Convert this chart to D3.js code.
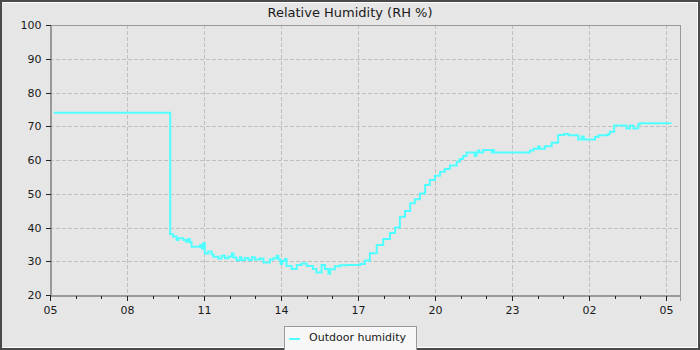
<!DOCTYPE html>
<html>
<head>
<meta charset="utf-8">
<script src="https://cdn.jsdelivr.net/npm/d3@7"></script>
<style>
  html, body { margin: 0; padding: 0; background: #e6e6e6; }
  svg { display: block; }
  text { font-family: "DejaVu Sans", sans-serif; fill: #1a1a1a; }
</style>
</head>
<body>
<svg id="chart" width="700" height="350"></svg>
<script>
// Outdoor relative humidity readings (clock time, % RH); the clock wraps past midnight into the next day
const times = [
  "05:09", "09:41", "09:48", "09:56", "10:00", "10:12", "10:18", "10:23", "10:27", "10:31",
  "10:51", "10:55", "10:58", "11:02", "11:10", "11:18", "11:22", "11:33", "11:41", "11:49",
  "11:57", "12:05", "12:09", "12:16", "12:24", "12:28", "12:36", "12:44", "12:52", "12:59",
  "13:11", "13:19", "13:34", "13:42", "13:50", "13:54", "13:59", "14:03", "14:09", "14:13",
  "14:25", "14:37", "14:48", "15:00", "15:15", "15:23", "15:35", "15:43", "15:51", "15:55",
  "16:06", "16:18", "16:34", "17:05", "17:16", "17:28", "17:44", "17:59", "18:15", "18:27",
  "18:38", "18:50", "19:02", "19:13", "19:25", "19:37", "19:48", "20:00", "20:12", "20:23",
  "20:35", "20:51", "20:58", "21:06", "21:14", "21:33", "21:37", "21:41", "21:44", "21:53",
  "22:13", "22:15", "22:18", "23:42", "23:50", "00:01", "00:05", "00:17", "00:33", "00:48",
  "01:02", "01:12", "01:35", "01:43", "01:48", "02:14", "02:22", "02:45", "02:49", "02:59",
  "03:28", "03:36", "03:44", "03:55", "03:59", "05:13"
];
const humidity = [
  74.0, 38.0, 37.3, 36.3, 36.8, 36.3, 35.8, 36.6, 35.6, 34.3,
  34.8, 33.8, 35.3, 32.3, 32.9, 32.0, 31.3, 30.8, 31.6, 30.9,
  31.4, 32.3, 31.1, 30.3, 31.2, 30.4, 31.0, 30.4, 31.2, 30.5,
  30.8, 29.6, 30.5, 30.9, 31.6, 30.5, 29.2, 30.1, 30.7, 28.6,
  27.7, 28.9, 29.3, 28.6, 27.7, 26.7, 28.9, 27.7, 26.3, 27.6,
  28.5, 28.8, 28.9, 29.2, 30.2, 32.4, 34.8, 36.6, 38.4, 40.0,
  43.2, 44.9, 47.2, 48.4, 50.1, 52.6, 54.1, 55.3, 56.5, 57.3,
  58.4, 59.5, 60.3, 61.2, 62.2, 61.2, 62.2, 62.8, 62.2, 63.0,
  62.2, 63.0, 62.2, 62.8, 63.3, 64.0, 63.3, 64.1, 65.1, 67.4,
  67.7, 67.3, 66.1, 67.0, 66.1, 66.8, 67.3, 67.7, 68.4, 70.2,
  69.3, 70.2, 69.3, 70.5, 70.9, 70.9
];
const yTicks = [20, 30, 40, 50, 60, 70, 80, 90, 100];
const chartTitle = "Relative Humidity (RH %)";
const seriesName = "Outdoor humidity";

const W = 700, H = 350;
const margin = { left: 50, top: 25, right: 20, bottom: 55 };
const plotW = W - margin.left - margin.right;   // 630
const plotH = H - margin.top - margin.bottom;   // 270

const parseClock = d3.timeParse("%H:%M");
// walk the readings in order, moving to the next day whenever the clock goes backwards
let dayShift = 0, prev = null;
const data = times.map((t, i) => {
  let d = parseClock(t);
  if (prev && d3.timeDay.offset(d, dayShift) < prev) dayShift += 1;
  d = d3.timeDay.offset(d, dayShift);
  prev = d;
  return { t: d, v: humidity[i] };
});

const start = parseClock("05:00");
const end = d3.timeMinute.offset(start, 24 * 60 + 33);

const x = d3.scaleTime().domain([start, end]).range([margin.left, margin.left + plotW]);
const y = d3.scaleLinear().domain([20, 100]).range([margin.top + plotH, margin.top]);

const svg = d3.select("#chart");

// frame
svg.append("rect").attr("x", 0).attr("y", 0).attr("width", W).attr("height", H).attr("fill", "#4a4a4a");
svg.append("rect").attr("x", 2).attr("y", 2).attr("width", 696).attr("height", 346).attr("fill", "#ffffff");
svg.append("rect").attr("x", 2).attr("y", 3).attr("width", 695).attr("height", 344).attr("fill", "#e6e6e6");

// title
svg.append("text")
  .attr("x", W / 2).attr("y", 17)
  .attr("text-anchor", "middle")
  .style("font-size", "13px")
  .text(chartTitle);

const majorTicks = d3.timeHour.range(start, end, 3);
const minorTicks = d3.timeHour.range(start, end, 1);

// grid
const grid = svg.append("g").attr("stroke", "#c0c0c0").attr("stroke-dasharray", "4,2").attr("shape-rendering", "crispEdges");
grid.selectAll("line.h").data(yTicks.filter(v => v > 20 && v < 100)).join("line")
  .attr("x1", margin.left).attr("x2", margin.left + plotW)
  .attr("y1", d => Math.round(y(d)) + 0.5).attr("y2", d => Math.round(y(d)) + 0.5);
grid.selectAll("line.v").data(majorTicks.slice(1)).join("line")
  .attr("y1", margin.top).attr("y2", margin.top + plotH)
  .attr("x1", d => Math.round(x(d)) + 0.5).attr("x2", d => Math.round(x(d)) + 0.5);

// plot border
svg.append("rect")
  .attr("x", margin.left + 0.5).attr("y", margin.top + 0.5)
  .attr("width", plotW).attr("height", plotH)
  .attr("fill", "none").attr("stroke", "#999").attr("shape-rendering", "crispEdges");

// axes
const yAxis = svg.append("g")
  .attr("transform", `translate(${margin.left + 0.5},0)`)
  .call(d3.axisLeft(y).tickValues(yTicks).tickSize(5).tickPadding(4));
const xAxis = svg.append("g")
  .attr("transform", `translate(0,${margin.top + plotH + 0.5})`)
  .call(d3.axisBottom(x).tickValues(majorTicks).tickFormat(d3.timeFormat("%H")).tickSize(5).tickPadding(6));
xAxis.append("g").selectAll("line").data(minorTicks.filter(d => majorTicks.every(m => +m !== +d))).join("line")
  .attr("x1", d => Math.round(x(d)) + 0.5).attr("x2", d => Math.round(x(d)) + 0.5)
  .attr("y1", 0).attr("y2", 3).attr("stroke", "#222");
[yAxis, xAxis].forEach(g => {
  g.select(".domain").attr("stroke", "#999");
  g.selectAll(".tick line").attr("stroke", "#222");
  g.selectAll("text").style("font-size", "11px").style("font-family", "DejaVu Sans, sans-serif").attr("fill", "#1a1a1a");
  g.attr("shape-rendering", "crispEdges");
});

// humidity line
const line = d3.line().x(d => x(d.t)).y(d => y(d.v)).curve(d3.curveStepAfter);
svg.append("path")
  .datum(data)
  .attr("d", line)
  .attr("fill", "none")
  .attr("stroke", "#50ffff")
  .attr("stroke-width", 2);

// legend
const lg = svg.append("g");
lg.append("rect").attr("x", 284.5).attr("y", 326.5).attr("width", 132).attr("height", 24)
  .attr("fill", "#f7f7f7").attr("stroke", "#999");
lg.append("line").attr("x1", 289).attr("x2", 300).attr("y1", 339).attr("y2", 339)
  .attr("stroke", "#50ffff").attr("stroke-width", 2);
lg.append("text").attr("x", 309).attr("y", 341).style("font-size", "11px").text(seriesName);
</script>
</body>
</html>
